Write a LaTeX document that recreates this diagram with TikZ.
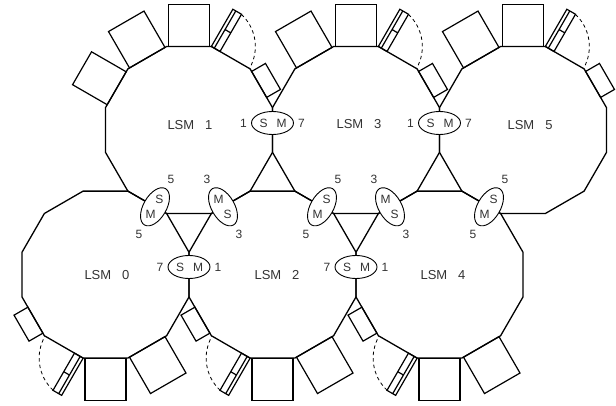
\documentclass[tikz,border=0pt]{standalone}
\usepackage{fontspec}
\setmainfont{Liberation Sans}
\usetikzlibrary{shapes.geometric,calc}

\newcommand\apo{83.5}
\newcommand\rad{86.44}

\begin{document}
\begin{tikzpicture}[x=1pt,y=1pt]
  \tikzset{WallStyle/.style={line width=1.3pt},
    BoxStyle/.style={line width=1.2pt},
    SwingStyle/.style={line width=0.8pt, dash pattern=on 3.5pt off 3pt},
    SwitchStyle/.style={draw, ellipse, fill=white, line width=0.9pt,
      minimum width=42pt, minimum height=23pt, inner sep=0pt},
    PortStyle/.style={font=\fontsize{12}{13}\selectfont, text=black!80, inner sep=0pt},
    NameStyle/.style={font=\fontsize{13}{15}\selectfont, text=black!80, inner sep=0pt}}
  \useasboundingbox (0,0) rectangle (616,405);
  \foreach \n/\x/\y/\base/\lx/\ly in {0/105.5/130.4/180/107/130, 1/189/275/0/190/280,
      2/272.5/130.4/180/277/130, 3/356/275/0/359/281,
      4/439.5/130.4/180/443/130, 5/523/275/0/530/280}{
    \draw[WallStyle, shift={(\x,\y)}] (15:\rad) -- (45:\rad) -- (75:\rad) -- (105:\rad)
      -- (135:\rad) -- (165:\rad) -- (195:\rad) -- (225:\rad) -- (255:\rad)
      -- (285:\rad) -- (315:\rad) -- (345:\rad) -- cycle;
    \begin{scope}[shift={(\x,\y)}, rotate=\base, BoxStyle]
      \draw[rotate=30] (\apo,-10.6) rectangle ++(16,30);
      \draw[rotate=60] (\apo,12.4) rectangle ++(43,10) (\apo,19) -- ++(43,0)
        (\apo+21.5,12.4) -- ++(0,6.6);
      \draw[SwingStyle, rotate=60] (\apo,22.4) ++(-13:44) arc[start angle=-13, end angle=-90, radius=44];
      \foreach \nr in {90,120}{\draw[rotate=\nr] (\apo,-20.5) rectangle ++(42,41);}
    \end{scope}
    \node[NameStyle] (lsm\n) at (\lx,\ly) {LSM\hspace{11pt}\n};
  }
  \draw[BoxStyle, shift={(189,275)}, rotate=150] (\apo,-19) rectangle ++(40,38);
  \foreach \nm/\x/\y/\rot/\dist/\pa/\pb in {13/272.5/282/0/29/1/7, 35/439.5/282/0/29/1/7,
      02/189/138/0/29/7/1, 24/356/138/0/29/7/1,
      01/155/198.2/240/32/5/5, 23/322/198.2/240/32/5/5, 45/489/198.2/240/32/5/5,
      12/223/198.2/120/32/3/3, 34/390/198.2/120/32/3/3}{
    \node[SwitchStyle, rotate=\rot] (sw\nm) at (\x,\y) {};
    \node[PortStyle] (sw\nm-s) at ($(sw\nm)+(\rot+180:9)$) {S};
    \node[PortStyle] (sw\nm-m) at ($(sw\nm)+(\rot:9)$) {M};
    \node[PortStyle] (sw\nm-a) at ($(sw\nm)+(\rot+180:\dist)$) {\pa};
    \node[PortStyle] (sw\nm-b) at ($(sw\nm)+(\rot:\dist)$) {\pb};
  }
\end{tikzpicture}
\end{document}
